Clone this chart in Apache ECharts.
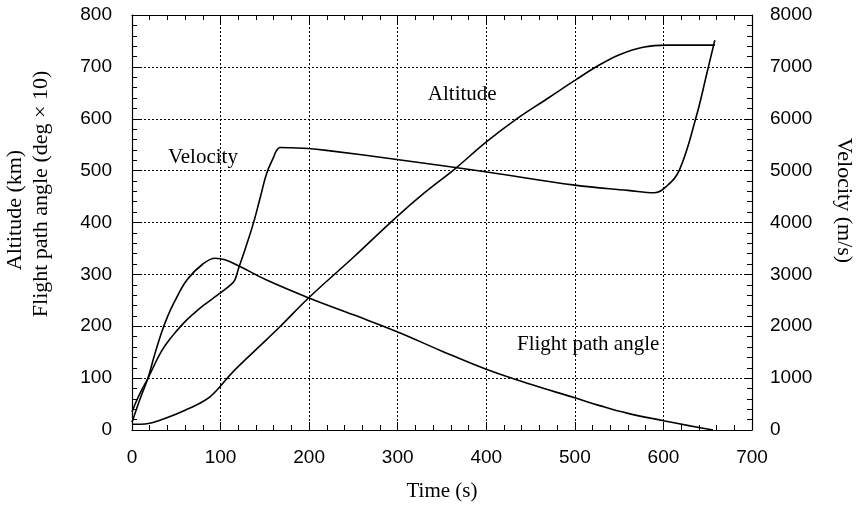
<!DOCTYPE html>
<html>
<head>
<meta charset="utf-8">
<script src="https://cdn.jsdelivr.net/npm/echarts@6/dist/echarts.min.js"></script>
<style>html,body{margin:0;padding:0;background:#fff}#c{width:856px;height:505px}</style>
</head>
<body>
<div id="c"></div>
<script>
// Time ticks / axis ranges
const timeTicks = [0, 100, 200, 300, 400, 500, 600, 700];
const leftTicks = [0, 100, 200, 300, 400, 500, 600, 700, 800];
const rightTicks = [0, 1000, 2000, 3000, 4000, 5000, 6000, 7000, 8000];

// Altitude (km)
const altTime = [0, 10, 20, 30, 43, 61, 75, 88, 99, 114, 140, 167, 199, 250, 297, 330, 365, 399, 432, 470, 500, 528, 551, 577, 604, 630, 658];
const altValue = [11, 11, 13, 18, 26, 39, 50, 64, 83, 112, 155, 199, 254, 333, 408, 457, 504, 554, 597, 640, 674, 704, 724, 738, 742, 742, 742];

// Velocity (m/s)
const velTime = [0, 5, 10, 18, 33, 45, 58, 70, 81, 90, 99, 111, 116, 120, 128, 137, 145, 152, 160, 163, 167, 180, 199, 224, 299, 399, 500, 560, 590, 603, 618, 637, 649, 658];
const velValue = [350, 560, 740, 996, 1510, 1800, 2056, 2250, 2408, 2520, 2634, 2794, 2890, 3100, 3500, 3983, 4495, 4946, 5266, 5380, 5446, 5440, 5427, 5380, 5216, 4977, 4720, 4620, 4573, 4690, 5010, 6037, 6873, 7514];

// Flight path angle (deg x 10)
const fpaTime = [0, 5, 10, 18, 25, 33, 40, 47, 62, 80, 94, 105, 122, 152, 199, 250, 300, 350, 400, 450, 500, 528, 560, 600, 630, 656];
const fpaValue = [15, 40, 64, 100, 142, 186, 218, 244, 289, 320, 331, 328, 315, 289, 255, 222, 189, 152, 117, 88, 62, 47, 32, 18, 8, 0];

// Curve labels
const labelVelocity = { text: 'Velocity', t: 40.6, v: 5260 };
const labelAltitude = { text: 'Altitude', t: 334, v: 647 };
const labelFpa = { text: 'Flight path angle', t: 434.7, v: 164 };

const zip = (a, b) => a.map((x, i) => [x, b[i]]);
const SANS = 'Liberation Sans';
const SERIF = 'Liberation Serif';
const black = '#000';

function annot(l) {
  return {
    symbol: 'circle', symbolSize: 0, silent: true, animation: false,
    label: { show: true, position: 'right', distance: 0, formatter: l.text,
      color: black, fontFamily: SERIF, fontSize: 21 },
    data: [{ coord: [l.t, l.v] }]
  };
}

const tickCommon = {
  axisTick: { show: true, inside: true, length: 8, lineStyle: { color: black, width: 1 } },
  minorTick: { show: true, splitNumber: 5, length: 5, lineStyle: { color: black, width: 1 } },
  axisLine: { show: true, onZero: false, lineStyle: { color: black, width: 1.2 } }
};

const chart = echarts.init(document.getElementById('c'), null, { renderer: 'canvas' });
chart.setOption({
  animation: false,
  backgroundColor: '#fff',
  grid: { left: 132, right: 104, top: 15, bottom: 75, containLabel: false, outerBoundsMode: 'none' },
  xAxis: [
    Object.assign({
      type: 'value', position: 'bottom', min: timeTicks[0], max: timeTicks[timeTicks.length - 1], interval: 100,
      name: 'Time (s)', nameLocation: 'middle', nameGap: 51,
      nameTextStyle: { fontFamily: SERIF, fontSize: 21, color: black },
      axisLabel: { margin: 18, fontFamily: SANS, fontSize: 19, color: black },
      splitLine: { show: true, lineStyle: { color: black, type: [2, 2], width: 1 } }
    }, tickCommon),
    Object.assign({
      type: 'value', position: 'top', min: 0, max: 700, interval: 100,
      axisLabel: { show: false }, splitLine: { show: false }
    }, tickCommon)
  ],
  yAxis: [
    Object.assign({
      type: 'value', position: 'left', min: leftTicks[0], max: leftTicks[leftTicks.length - 1], interval: 100,
      name: '{a|Altitude (km)}\n{b|Flight path angle (deg × 10)}',
      nameLocation: 'middle', nameGap: 78, nameRotate: 90,
      nameTextStyle: {
        fontFamily: SERIF, fontSize: 22, color: black, lineHeight: 26, padding: [0, 0, 0, 57],
        rich: {
          a: { fontFamily: SERIF, fontSize: 22, color: black, lineHeight: 26, padding: [0, 32, 0, 0] },
          b: { fontFamily: SERIF, fontSize: 22, color: black, lineHeight: 26 }
        }
      },
      axisLabel: { margin: 20, fontFamily: SANS, fontSize: 19, color: black },
      splitLine: { show: true, lineStyle: { color: black, type: [2, 2], width: 1 } }
    }, tickCommon),
    Object.assign({
      type: 'value', position: 'right', min: rightTicks[0], max: rightTicks[rightTicks.length - 1], interval: 1000,
      name: 'Velocity (m/s)', nameLocation: 'middle', nameGap: 81, nameRotate: -90,
      nameTextStyle: { fontFamily: SERIF, fontSize: 22, color: black, padding: [0, 44, 0, 0] },
      axisLabel: { margin: 18, fontFamily: SANS, fontSize: 19, color: black, formatter: v => String(v) },
      splitLine: { show: false }
    }, tickCommon)
  ],
  series: [
    {
      name: 'Altitude', type: 'line', xAxisIndex: 0, yAxisIndex: 0,
      data: zip(altTime, altValue), showSymbol: false, smooth: 0.4,
      lineStyle: { color: black, width: 1.6 }, markPoint: annot(labelAltitude)
    },
    {
      name: 'Velocity', type: 'line', xAxisIndex: 0, yAxisIndex: 1,
      data: zip(velTime, velValue), showSymbol: false, smooth: 0.4,
      lineStyle: { color: black, width: 1.6 }, markPoint: annot(labelVelocity)
    },
    {
      name: 'Flight path angle', type: 'line', xAxisIndex: 0, yAxisIndex: 0,
      data: zip(fpaTime, fpaValue), showSymbol: false, smooth: 0.4,
      lineStyle: { color: black, width: 1.6 }, markPoint: annot(labelFpa)
    }
  ]
});
</script>
</body>
</html>
